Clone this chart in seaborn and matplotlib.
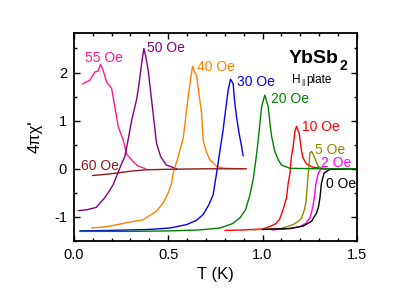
import numpy as np
import pandas as pd
import matplotlib
matplotlib.use("Agg")
import matplotlib.pyplot as plt
from matplotlib.ticker import MultipleLocator
import seaborn as sns

# ---- data ----
T_55 = [0.044, 0.085, 0.111, 0.129, 0.141, 0.155, 0.173, 0.2, 0.217, 0.235, 0.261, 0.28, 0.314, 0.34, 0.38]
X_55 = [1.76, 1.84, 2.01, 2.03, 2.17, 2.05, 1.81, 1.67, 1.29, 0.88, 0.6, 0.3, 0.15, 0.06, 0.0]

T_50 = [0.023, 0.07, 0.12, 0.138, 0.16, 0.185, 0.208, 0.23, 0.25, 0.27, 0.285, 0.306, 0.332, 0.345,
        0.359, 0.371, 0.38, 0.394, 0.42, 0.438, 0.46, 0.49, 0.544]
X_50 = [-0.87, -0.85, -0.8, -0.71, -0.62, -0.48, -0.33, -0.12, 0.08, 0.25, 0.55, 1.0, 1.43, 1.75,
        2.19, 2.5, 2.35, 2.05, 1.15, 0.53, 0.25, 0.08, 0.0]

T_60 = [0.099, 0.18, 0.244, 0.3, 0.385, 0.5, 0.7, 0.915]
X_60 = [-0.14, -0.11, -0.08, -0.05, -0.02, -0.01, 0.0, 0.0]

T_40 = [0.094, 0.18, 0.279, 0.367, 0.438, 0.473, 0.5, 0.518, 0.526, 0.553, 0.58, 0.595, 0.606, 0.62,
        0.629, 0.64, 0.65, 0.665, 0.677, 0.685, 0.7, 0.72, 0.756, 0.8, 0.9]
X_40 = [-1.23, -1.2, -1.12, -1.06, -0.88, -0.71, -0.5, -0.3, -0.09, 0.25, 0.65, 1.15, 1.5, 1.9,
        2.13, 2.0, 1.95, 1.5, 1.15, 0.6, 0.38, 0.19, 0.05, 0.01, 0.0]

T_30 = [0.032, 0.2, 0.4, 0.509, 0.597, 0.65, 0.685, 0.715, 0.738, 0.756, 0.775, 0.791, 0.805, 0.818,
        0.83, 0.844, 0.852, 0.862, 0.875, 0.889, 0.897]
X_30 = [-1.29, -1.28, -1.26, -1.23, -1.16, -1.07, -0.95, -0.75, -0.54, -0.1, 0.4, 0.81, 1.25, 1.64,
        1.86, 1.77, 1.4, 1.08, 0.75, 0.46, 0.27]

T_20 = [0.032, 0.3, 0.51, 0.668, 0.774, 0.84, 0.88, 0.91, 0.933, 0.95, 0.965, 0.977, 0.995, 1.012,
        1.03, 1.039, 1.048, 1.065, 1.083, 1.1, 1.145, 1.3, 1.5]
X_20 = [-1.30, -1.30, -1.29, -1.27, -1.23, -1.14, -1.02, -0.85, -0.54, -0.23, 0.2, 0.6, 1.29, 1.53,
        1.29, 0.95, 0.67, 0.36, 0.19, 0.08, 0.01, 0.0, 0.0]

T_10 = [0.8, 0.9, 1.0, 1.039, 1.07, 1.09, 1.109, 1.127, 1.136, 1.145, 1.153, 1.162, 1.171, 1.18,
        1.194, 1.207, 1.215, 1.233, 1.268, 1.35]
X_10 = [-1.28, -1.27, -1.25, -1.2, -1.14, -1.05, -0.85, -0.6, -0.3, -0.1, 0.25, 0.46, 0.77, 0.88,
        0.74, 0.36, 0.22, 0.1, 0.03, 0.0]

T_5 = [0.95, 1.1, 1.162, 1.19, 1.207, 1.222, 1.23, 1.237, 1.242, 1.251, 1.26, 1.268, 1.277, 1.295, 1.32, 1.4]
X_5 = [-1.27, -1.24, -1.16, -1.09, -1.02, -0.85, -0.68, -0.35, -0.12, 0.33, 0.36, 0.3, 0.22, 0.05, 0.0, 0.0]

T_2 = [1.05, 1.15, 1.2, 1.23, 1.251, 1.26, 1.268, 1.276, 1.282, 1.29, 1.295, 1.31, 1.35, 1.45]
X_2 = [-1.27, -1.24, -1.2, -1.13, -1.02, -0.9, -0.75, -0.55, -0.33, -0.18, -0.09, 0.0, 0.0, 0.0]

T_0 = [1.0, 1.145, 1.215, 1.26, 1.286, 1.296, 1.304, 1.312, 1.326, 1.357, 1.5]
X_0 = [-1.26, -1.24, -1.19, -1.09, -0.92, -0.8, -0.61, -0.3, -0.09, -0.01, 0.0]

fields = ["55 Oe", "50 Oe", "40 Oe", "60 Oe", "30 Oe", "10 Oe", "5 Oe", "2 Oe", "0 Oe", "20 Oe"]
colors = {"55 Oe": "#ff1a8c", "50 Oe": "#800080", "60 Oe": "#8b1a1a", "40 Oe": "#ff8000",
          "30 Oe": "#0000ff", "20 Oe": "#008000", "10 Oe": "#ff0000", "5 Oe": "#8b8b00",
          "2 Oe": "#ff00ff", "0 Oe": "#000000"}
series = {"55 Oe": (T_55, X_55), "50 Oe": (T_50, X_50), "60 Oe": (T_60, X_60), "40 Oe": (T_40, X_40),
          "30 Oe": (T_30, X_30), "20 Oe": (T_20, X_20), "10 Oe": (T_10, X_10), "5 Oe": (T_5, X_5),
          "2 Oe": (T_2, X_2), "0 Oe": (T_0, X_0)}

# label positions (T, value)
label_pos = {"55 Oe": (0.058, 2.31), "50 Oe": (0.39, 2.5), "40 Oe": (0.65, 2.12), "30 Oe": (0.862, 1.81),
             "20 Oe": (1.044, 1.45), "10 Oe": (1.207, 0.87), "5 Oe": (1.277, 0.40), "2 Oe": (1.312, 0.12),
             "0 Oe": (1.335, -0.32), "60 Oe": (0.037, 0.06)}

rows = []
for f in fields:
    t, x = series[f]
    for i, (a, b) in enumerate(zip(t, x)):
        rows.append({"T": a, "chi": b, "field": f, "idx": i})
df = pd.DataFrame(rows)

sns.set_theme(style="ticks")
plt.rcParams["font.family"] = ["Liberation Sans", "DejaVu Sans"]

fig = plt.figure(figsize=(4.15, 2.90), dpi=100)
ax = fig.add_axes([0.178, 0.169, 0.682, 0.717])

sns.lineplot(data=df, x="T", y="chi", hue="field", hue_order=fields, palette=colors,
             sort=False, estimator=None, legend=False, linewidth=1.0, ax=ax)

for f, (tx, ty) in label_pos.items():
    ax.text(tx, ty, f, color=colors[f], fontsize=10, ha="left", va="center")

ax.text(1.136, 2.20, "YbSb", fontsize=14, fontweight="bold", ha="left", va="baseline", color="black")
ax.text(1.406, 2.06, "2", fontsize=10, fontweight="bold", ha="left", va="baseline", color="black")
ax.text(1.154, 1.787, "H", fontsize=8.5, ha="left", va="baseline", color="black")
ax.text(1.207, 1.76, "||", fontsize=6, ha="left", va="baseline", color="black")
ax.text(1.233, 1.787, "plate", fontsize=8.5, ha="left", va="baseline", color="black")

ax.set_xlim(0, 1.5)
ax.set_ylim(-1.5, 2.82)
ax.xaxis.set_minor_locator(MultipleLocator(0.1))
ax.yaxis.set_minor_locator(MultipleLocator(0.5))
ax.set_xticks([0.0, 0.5, 1.0, 1.5])
ax.set_xticklabels(["0.0", "0.5", "1.0", "1.5"])
ax.set_yticks([-1, 0, 1, 2])
ax.set_yticklabels(["-1", "0", "1", "2"])
ax.tick_params(which="both", direction="in", top=True, right=True, labelsize=10.5, color="black",
               labelcolor="black", width=1.0)
ax.tick_params(which="major", length=4, pad=5)
ax.tick_params(which="minor", length=2.5)
for s in ax.spines.values():
    s.set_linewidth(1.3)
    s.set_color("black")

ax.set_xlabel("T (K)", fontsize=12, labelpad=4, color="black")
ax.set_ylabel("4πχ'", fontsize=12, labelpad=8, color="black")

fig.savefig("out.png", dpi=100, facecolor="white")
